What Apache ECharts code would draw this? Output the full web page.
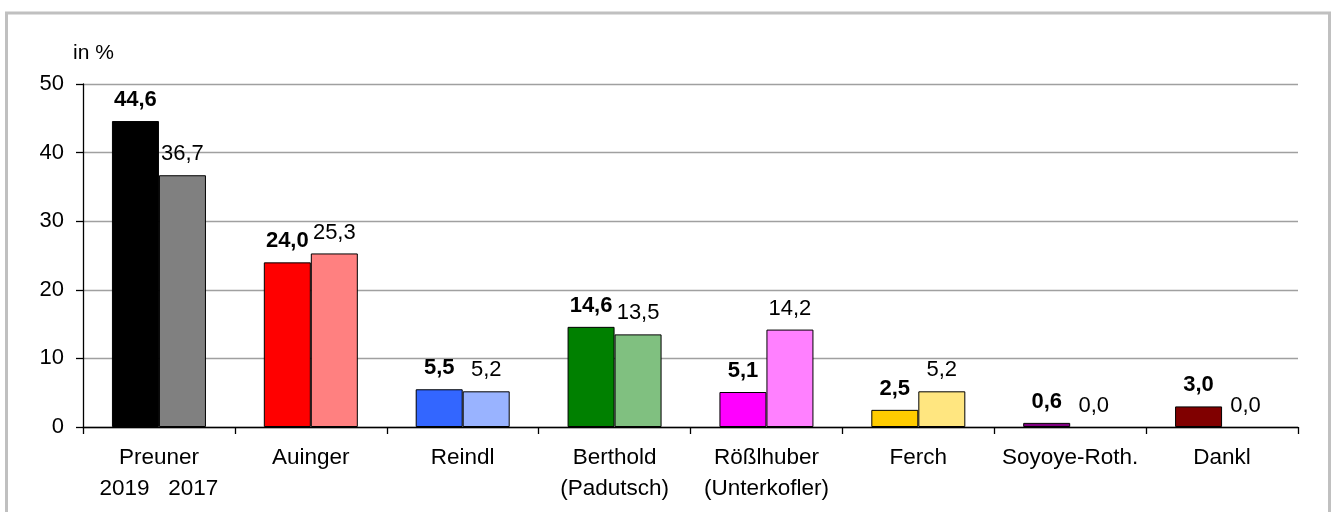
<!DOCTYPE html>
<html>
<head>
<meta charset="utf-8">
<script src="https://cdn.jsdelivr.net/npm/echarts@6/dist/echarts.min.js"></script>
<style>
    html, body { margin: 0; padding: 0; background: #fff; }
    #chart { width: 1332px; height: 512px; }
</style>
</head>
<body>
<div id="chart"></div>
<script>
    // Daten
    var categories = ['Preuner\n2019   2017', 'Auinger', 'Reindl', 'Berthold\n(Padutsch)', 'Rößlhuber\n(Unterkofler)', 'Ferch', 'Soyoye-Roth.', 'Dankl'];
    var values2019 = [44.6, 24.0, 5.5, 14.6, 5.1, 2.5, 0.6, 3.0];
    var values2017 = [36.7, 25.3, 5.2, 13.5, 14.2, 5.2, 0.0, 0.0];
    var colors2019 = ['#000000', '#ff0000', '#3366ff', '#008000', '#ff00ff', '#ffcc00', '#800080', '#800000'];
    var colors2017 = ['#808080', '#ff8080', '#99b3ff', '#80c080', '#ff80ff', '#ffe680', '#c080c0', '#c08080'];
    var yMin = 0, yMax = 50, yStep = 10;

    var font = "'Liberation Sans', Arial, sans-serif";

    function fmt(v) {
        return v.toFixed(1).replace('.', ',');
    }

    // Balken mit Wert 0 ohne Rahmen zeichnen
    function barItems(values, colors) {
        return values.map(function (v, i) {
            return { value: v, itemStyle: { color: colors[i], borderWidth: v === 0 ? 0 : 1 } };
        });
    }

    var myChart = echarts.init(document.getElementById('chart'), null, { renderer: 'canvas' });

    var option = {
        backgroundColor: '#ffffff',
        animation: false,
        textStyle: { fontFamily: font },
        title: {
            text: 'in %',
            left: 68,
            top: 38,
            textStyle: { fontSize: 21, fontWeight: 'normal', color: '#000', fontFamily: font }
        },
        graphic: [{
            type: 'rect',
            shape: { x: 6.5, y: 13, width: 1323, height: 540 },
            style: { fill: null, stroke: '#c0c0c0', lineWidth: 3 },
            silent: true
        }],
        grid: { left: 83, right: 34, top: 84, bottom: 85 },
        xAxis: {
            type: 'category',
            data: categories,
            axisLine: { lineStyle: { color: '#000', width: 1.3 } },
            axisTick: { show: true, length: 7, lineStyle: { color: '#000', width: 1.3 } },
            axisLabel: {
                color: '#000',
                fontSize: 22.5,
                fontFamily: font,
                lineHeight: 31,
                margin: 15,
                interval: 0
            }
        },
        yAxis: {
            type: 'value',
            min: yMin,
            max: yMax,
            interval: yStep,
            axisLine: { show: true, lineStyle: { color: '#000', width: 1.3 } },
            axisTick: { show: true, length: 7, lineStyle: { color: '#000', width: 1.3 } },
            axisLabel: { color: '#000', fontSize: 22, fontFamily: font, margin: 19 },
            splitLine: { show: true, lineStyle: { color: '#a0a0a0', width: 1.3 } }
        },
        series: [
            {
                name: '2019',
                type: 'bar',
                barWidth: 47,
                barGap: '0%',
                data: barItems(values2019, colors2019),
                itemStyle: { borderColor: '#000', borderWidth: 1 },
                label: {
                    show: true,
                    position: 'top',
                    distance: 10,
                    fontSize: 22,
                    fontWeight: 'bold',
                    color: '#000',
                    fontFamily: font,
                    formatter: function (p) { return fmt(p.value); }
                }
            },
            {
                name: '2017',
                type: 'bar',
                barWidth: 47,
                barGap: '0%',
                data: barItems(values2017, colors2017),
                itemStyle: { borderColor: '#000', borderWidth: 1 },
                label: {
                    show: true,
                    position: 'top',
                    distance: 10,
                    fontSize: 22,
                    color: '#000',
                    fontFamily: font,
                    formatter: function (p) { return fmt(p.value); }
                }
            }
        ]
    };

    myChart.setOption(option);
</script>
</body>
</html>
